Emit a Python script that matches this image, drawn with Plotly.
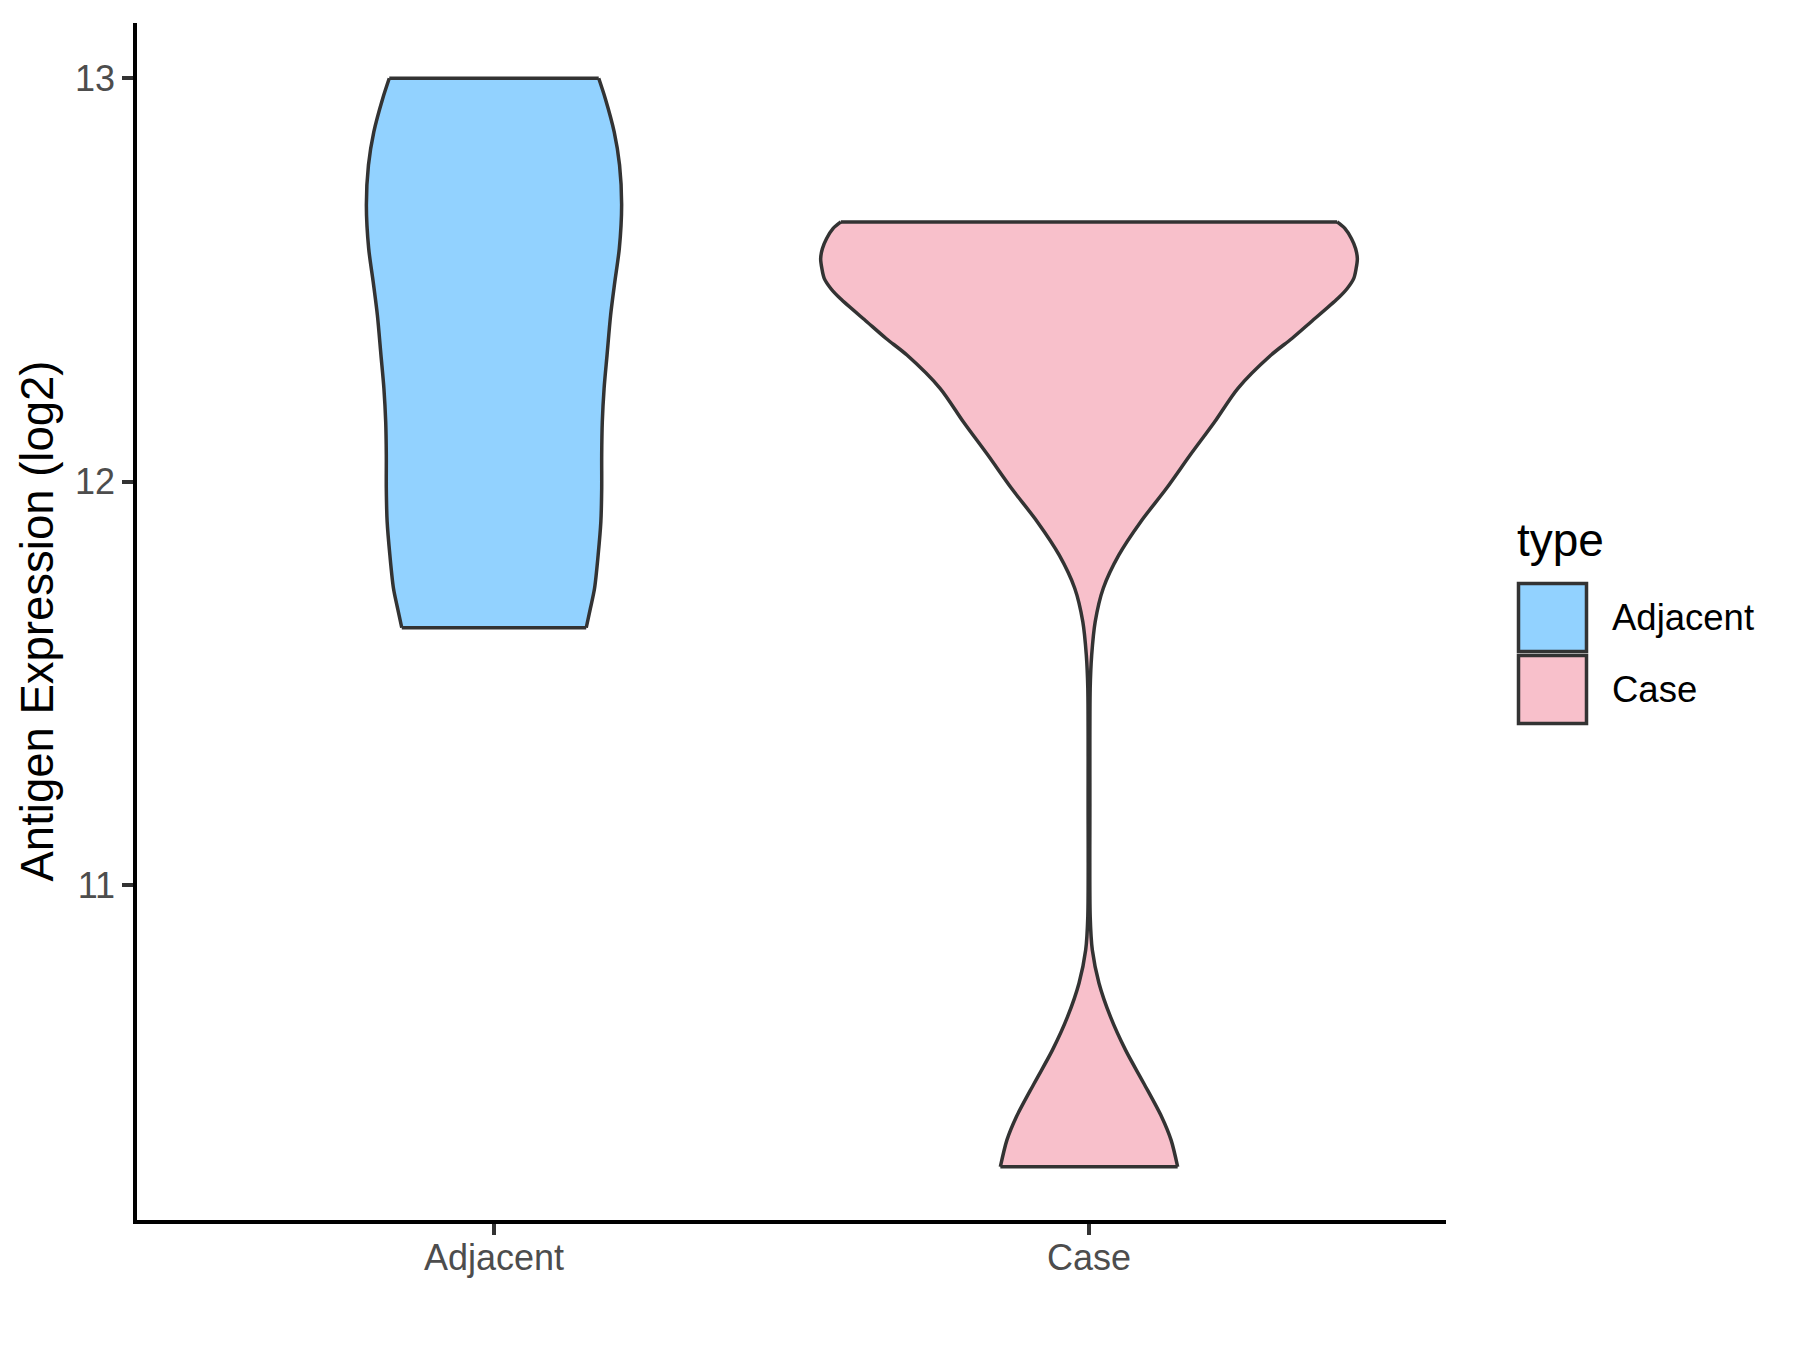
import numpy as np
import plotly.graph_objects as go

# ─── Data ────────────────────────────────────────────────────────────────
CATEGORIES = ["Adjacent", "Case"]
FILLS = ["#92D2FF", "#F8C0CB"]
OUTLINE = "#333333"

# violin outline: expression level (log2) and half-width (x units)
ADJ_Y = [13.000, 12.950, 12.867, 12.785, 12.686, 12.578, 12.495, 12.413,
         12.314, 12.231, 12.148, 12.066, 11.983, 11.901, 11.818, 11.736,
         11.686, 11.638]
ADJ_W = [0.176, 0.187, 0.202, 0.211, 0.2145, 0.2106, 0.203, 0.196,
         0.190, 0.185, 0.182, 0.181, 0.181, 0.1796, 0.175, 0.169,
         0.162, 0.155]

CASE_Y = [12.644, 12.628, 12.603, 12.578, 12.553, 12.529, 12.504, 12.479,
          12.454, 12.396, 12.355, 12.314, 12.231, 12.148, 12.066, 11.983,
          11.901, 11.818, 11.736, 11.653, 11.570, 11.488, 11.200, 10.922,
          10.839, 10.757, 10.674, 10.591, 10.509, 10.426, 10.368, 10.302]
CASE_W = [0.417, 0.430, 0.441, 0.448, 0.451, 0.449, 0.445, 0.434,
          0.418, 0.373, 0.341, 0.306, 0.250, 0.211, 0.170, 0.130,
          0.087, 0.050, 0.024, 0.0104, 0.0045, 0.002, 0.0015, 0.002,
          0.0056, 0.0168, 0.036, 0.0615, 0.092, 0.122, 0.138, 0.149]

Y_TICKS = [11, 12, 13]

# ─── Layout geometry (page pixels; body has an 8px default margin) ─────
W, H = 1800, 1350
OFF = 8
L, R, T, B = 137, 1446, 23, 1220
FONT = "Liberation Sans, Arial, sans-serif"


def px_x(p):
    return (p - L) / (R - L)


def px_y(p):
    return (B - p) / (B - T)


fig = go.Figure()

for i, (name, ys, ws) in enumerate([("Adjacent", ADJ_Y, ADJ_W),
                                    ("Case", CASE_Y, CASE_W)]):
    c = i + 1
    ys = np.asarray(ys)
    ws = np.asarray(ws)
    left, right = c - ws, c + ws

    # filled body
    fig.add_trace(go.Scatter(
        x=np.concatenate([left, right[::-1]]),
        y=np.concatenate([ys, ys[::-1]]),
        mode="lines", fill="toself", fillcolor=FILLS[i],
        line=dict(width=0, color=FILLS[i]),
        hoverinfo="skip", showlegend=False,
    ))
    # smooth sides
    for side in (left, right):
        fig.add_trace(go.Scatter(
            x=side, y=ys, mode="lines",
            line=dict(color=OUTLINE, width=3.5, shape="spline", smoothing=0.8),
            hoverinfo="skip", showlegend=False,
        ))
    # flat top and bottom edges
    fig.add_trace(go.Scatter(
        x=[left[0], right[0], None, left[-1], right[-1]],
        y=[ys[0], ys[0], None, ys[-1], ys[-1]],
        mode="lines", line=dict(color=OUTLINE, width=3.5),
        hoverinfo="skip", showlegend=False,
    ))

axis_common = dict(
    showline=True, linecolor="black", linewidth=3.5,
    ticks="outside", ticklen=11, tickwidth=3.5, tickcolor=OUTLINE,
    showgrid=False, zeroline=False,
    tickfont=dict(family=FONT, size=36, color="#4D4D4D"),
)

fig.update_layout(
    width=W, height=H,
    margin=dict(l=L - OFF, r=W - R + OFF, t=T - OFF, b=H - B + OFF),
    paper_bgcolor="white", plot_bgcolor="white",
    font=dict(family=FONT, color="black"),
    xaxis=dict(range=[0.4, 2.6], tickvals=[1, 2], ticktext=CATEGORIES,
               ticklabelstandoff=-8, **axis_common),
    yaxis=dict(range=[10.170, 13.137], tickvals=Y_TICKS,
               ticktext=[str(t) for t in Y_TICKS], **axis_common),
    showlegend=False,
)

# y axis title
fig.add_annotation(
    x=px_x(37), y=0.5, xref="paper", yref="paper",
    text="Antigen Expression (log2)", textangle=-90, showarrow=False,
    xanchor="center", yanchor="middle",
    font=dict(family=FONT, size=45.5, color="black"),
)

# legend drawn by hand to match ggplot key boxes
fig.add_annotation(
    x=px_x(1515), y=px_y(540), xref="paper", yref="paper",
    text="type", showarrow=False, xanchor="left", yanchor="middle",
    font=dict(family=FONT, size=46, color="black"),
)
key_tops = [583.5, 655.5]
for name, fill, top in zip(CATEGORIES, FILLS, key_tops):
    fig.add_shape(
        type="rect", xref="paper", yref="paper",
        x0=px_x(1518.5), x1=px_x(1586.5), y0=px_y(top), y1=px_y(top + 68),
        fillcolor=fill, line=dict(color=OUTLINE, width=3.5),
    )
    fig.add_annotation(
        x=px_x(1610), y=px_y(top + 34), xref="paper", yref="paper",
        text=name, showarrow=False, xanchor="left", yanchor="middle",
        font=dict(family=FONT, size=36.5, color="black"),
    )

fig.write_html("out.html")
